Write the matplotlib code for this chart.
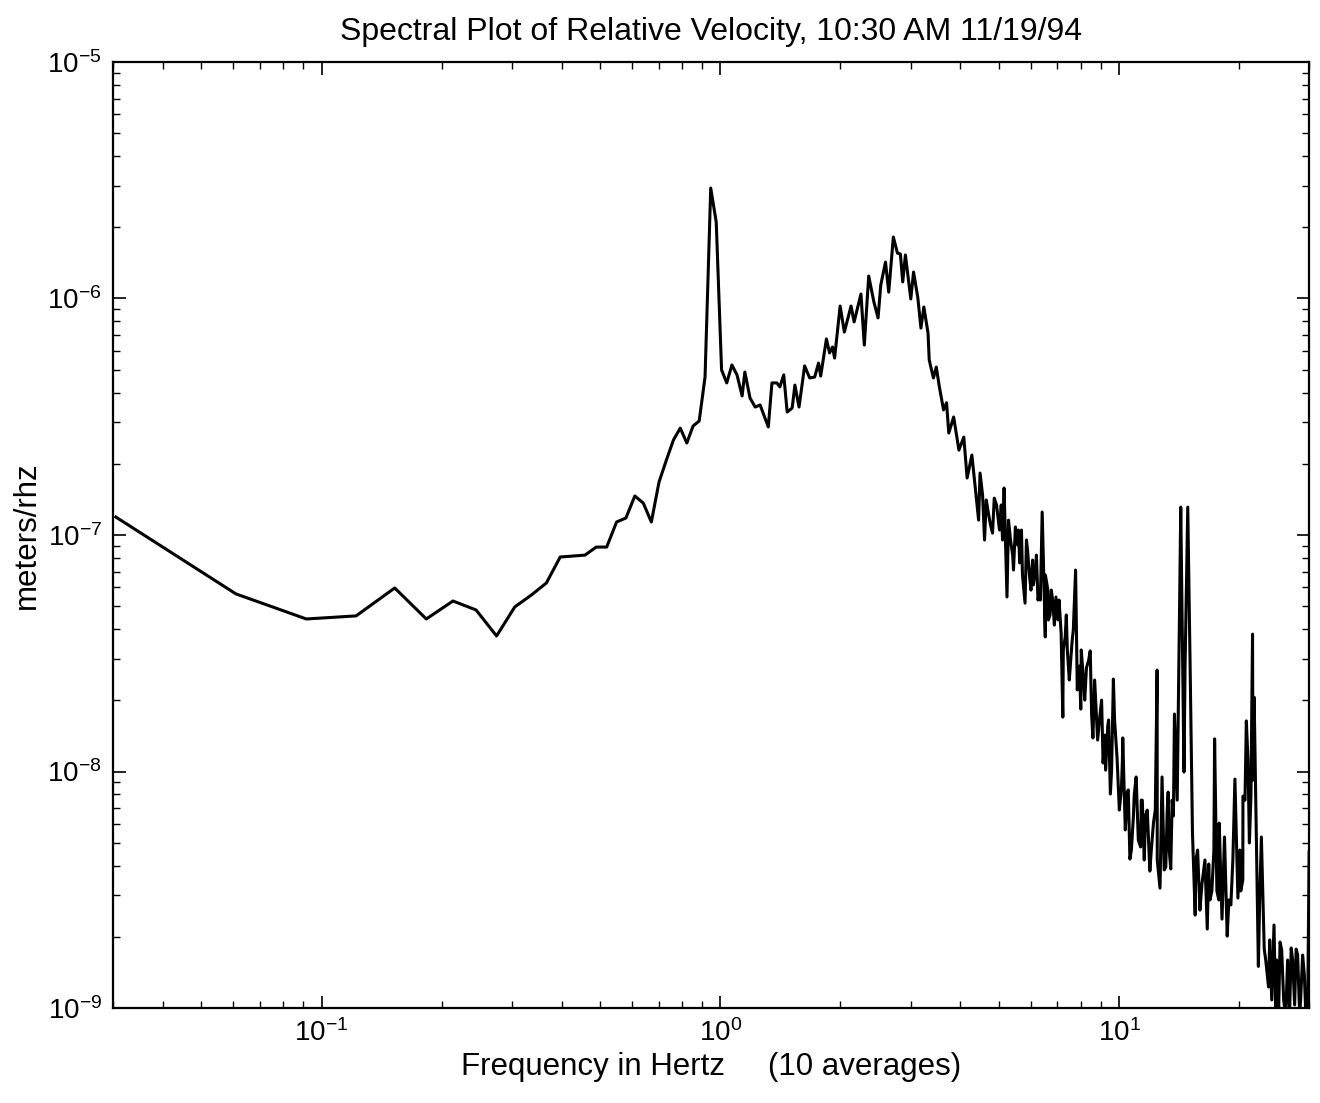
import numpy as np
import matplotlib
matplotlib.use("Agg")
import matplotlib.pyplot as plt
from matplotlib.ticker import NullFormatter

plt.rcParams["font.family"] = ["Liberation Sans", "DejaVu Sans"]
plt.rcParams["mathtext.fontset"] = "custom"
plt.rcParams["mathtext.rm"] = "Liberation Sans"

# Relative velocity spectrum (10 averages), frequency in Hz
freq_hz = [
    0.0305, 0.0610, 0.0916, 0.1221, 0.1526, 0.1831, 0.2136, 0.2441, 0.2747, 0.3052,
    0.3357, 0.3662, 0.3967, 0.4272, 0.4578, 0.4883, 0.5188, 0.5493, 0.5798, 0.6104,
    0.6409, 0.6714, 0.7019, 0.7324, 0.7629, 0.7935, 0.8240, 0.8545, 0.8850, 0.9155,
    0.9460, 0.9766, 1.0071, 1.0376,
    1.069, 1.101, 1.134, 1.152, 1.187, 1.223, 1.258, 1.319, 1.347, 1.386,
    1.410, 1.442, 1.471, 1.514, 1.538, 1.575, 1.627, 1.675, 1.724, 1.763,
    1.785, 1.845, 1.879, 1.911, 1.934, 1.997, 2.046, 2.127, 2.165, 2.252,
    2.296, 2.355, 2.427, 2.486, 2.525, 2.595, 2.644, 2.715, 2.780, 2.828,
    2.866, 2.911, 3.003, 3.051, 3.126, 3.184, 3.238, 3.317, 3.340, 3.422,
    3.479, 3.542, 3.628, 3.692, 3.739, 3.846, 3.965, 4.078, 4.157, 4.273,
    4.479, 4.597, 4.643, 4.699, 4.814, 4.862, 5.012, 5.062, 5.146, 5.233,
    5.340, 5.408, 5.493, 5.564, 5.630, 5.689, 5.808, 5.892, 6.009, 6.067,
    6.177, 6.259, 6.328, 6.412, 6.528, 6.627, 6.711, 6.823, 6.942, 7.026,
    7.153, 7.223, 7.323, 7.413, 7.551, 7.627, 7.776, 7.952, 8.012, 8.137,
    8.279, 8.462, 8.594, 8.730, 8.940, 9.114, 9.210, 9.365, 9.506, 9.672,
    9.880, 10.13, 10.21, 10.48, 10.64, 10.86, 11.03, 11.32, 11.43, 11.64,
    11.94, 12.19, 12.45, 12.66, 12.81, 13.09, 13.27, 13.47, 13.68, 13.76,
    14.03, 14.18, 14.27, 14.54, 14.63, 14.86, 15.06, 15.27, 15.51, 15.73,
    16.13, 16.29, 16.63, 16.77, 17.08, 17.35, 17.58, 17.82, 18.11, 18.37,
    18.66, 19.06, 19.51, 19.85, 20.18, 20.44, 20.84, 21.21, 21.40, 21.60,
    21.80, 22.34, 22.73, 23.11, 23.69, 24.45, 24.69, 25.32, 26.16, 27.00,
    27.79, 28.35, 29.13, 29.70, 29.95,
]

# log10 of amplitude spectral density, meters/rhz
log_asd = [
    -6.924, -7.249, -7.355, -7.342, -7.224, -7.355, -7.279, -7.317, -7.427, -7.304,
    -7.254, -7.203, -7.093, -7.089, -7.085, -7.051, -7.051, -6.945, -6.928, -6.835,
    -6.865, -6.945, -6.776, -6.683, -6.598, -6.548, -6.611, -6.539, -6.518, -6.332,
    -5.533, -5.677, -6.302, -6.357,
    -6.281, -6.323, -6.412, -6.311, -6.421, -6.459, -6.450, -6.543, -6.357, -6.357,
    -6.374, -6.323, -6.480, -6.463, -6.366, -6.459, -6.285, -6.336, -6.332, -6.273,
    -6.328, -6.171, -6.230, -6.205, -6.252, -6.032, -6.142, -6.032, -6.099, -5.981,
    -6.197, -5.905, -6.015, -6.082, -5.943, -5.846, -5.973, -5.740, -5.808, -5.812,
    -5.930, -5.816, -6.002, -5.888, -5.994, -6.125, -6.036, -6.146, -6.260, -6.336,
    -6.290, -6.374, -6.471, -6.441, -6.569, -6.501, -6.641, -6.586, -6.759, -6.662,
    -6.738, -7.021, -6.852, -6.907, -6.992, -6.844, -6.979, -6.873, -6.801, -7.262,
    -7.021, -7.085, -6.966, -7.042, -7.118, -6.979, -7.288, -7.063, -7.233, -7.106,
    -7.135, -7.275, -7.233, -6.903, -7.431, -7.233, -7.338, -7.288, -7.262, -7.359,
    -7.414, -7.770, -7.431, -7.486, -7.541, -7.444, -7.148, -7.554, -7.736, -7.613,
    -7.562, -7.490, -7.858, -7.698, -7.770, -7.964, -7.846, -7.808, -8.095, -7.609,
    -7.943, -8.074, -7.858, -8.087, -8.370, -8.188, -8.023, -8.319, -8.121, -8.188,
    -8.421, -8.218, -7.571, -8.493, -8.023, -8.404, -8.087, -8.412, -8.188, -7.757,
    -7.914, -7.275, -6.882, -8.002, -7.558, -6.882, -7.541, -8.260, -8.607, -8.332,
    -8.476, -8.417, -8.666, -8.391, -8.505, -7.862, -8.505, -8.218, -8.624, -8.277,
    -8.696, -8.564, -8.032, -8.535, -8.505, -8.104, -7.786, -8.302, -8.104, -7.419,
    -7.686, -8.824, -8.277, -8.751, -8.911, -8.649, -9.025, -8.721, -9.034, -8.746,
    -8.751, -9.025, -8.860, -8.996, -8.340,
]

# extra bins in the noisy band above 4 Hz
band_freq_hz = [
    4.442, 4.545, 4.759, 4.926, 5.100, 5.279, 5.433, 5.592, 5.722, 5.855,
    5.957, 6.095, 6.202, 6.346, 6.531, 6.645, 6.761, 6.879, 7.068, 7.244,
    7.371, 7.499, 7.674, 7.852, 8.035, 8.197, 8.387, 8.531, 8.680, 8.831,
    9.036, 9.247, 9.408, 9.572, 9.739,
    10.01, 10.19, 10.36, 10.54, 10.73, 10.91, 11.17, 11.36, 11.56, 11.76,
    12.04, 12.32, 12.46, 12.75, 12.97, 13.20, 13.35, 13.58, 13.98,
    15.58, 15.94, 16.41, 16.89, 17.28, 17.78, 18.30, 18.84, 19.28, 20.07,
    20.42, 20.68, 21.04, 21.65,
    22.51, 23.31, 23.85, 24.13, 24.83, 25.12, 25.56, 25.85, 26.45, 26.76,
    27.23, 27.54, 28.02, 28.51, 28.84, 29.35,
]
band_log_asd = [
    -6.937, -6.831, -6.958, -6.873, -7.021, -6.937, -7.148, -6.979, -7.169, -7.021,
    -7.169, -7.211, -7.085, -7.275, -7.169, -7.359, -7.233, -7.381, -7.275, -7.486,
    -7.338, -7.613, -7.402, -7.655, -7.486, -7.698, -7.529, -7.761, -7.613, -7.867,
    -7.698, -7.994, -7.782, -7.994, -7.782,
    -8.163, -7.951, -8.247, -8.078, -8.332, -8.099, -8.290, -8.121, -8.374, -8.163,
    -8.332, -8.163, -8.374, -8.205, -8.416, -8.163, -8.332, -8.121, -8.121,
    -8.374, -8.586, -8.374, -8.543, -8.332, -8.543, -8.374, -8.543, -8.374, -8.332,
    -8.459, -8.121, -7.951, -8.036,
    -8.543, -8.797, -8.712, -8.966, -8.797, -9.008, -8.755, -8.966, -8.797, -9.017,
    -8.797, -8.987, -8.776, -8.966, -8.776, -9.008,
]

f_all = np.concatenate([freq_hz, band_freq_hz])
lv_all = np.concatenate([log_asd, band_log_asd])
order = np.argsort(f_all)
f_all = f_all[order]
asd = 10.0 ** lv_all[order]

fig = plt.figure(figsize=(13.2, 11.03), dpi=100)
ax = fig.add_axes([0.0856, 0.0861, 0.9064, 0.8577])

ax.loglog(f_all, asd, color="black", linewidth=2.2)
ax.set_xlim(0.03, 30)
ax.set_ylim(1e-9, 1e-5)

ax.tick_params(which="both", direction="in", top=True, right=True)
ax.tick_params(which="major", length=9, width=1.2, labelsize=20, pad=8)
ax.tick_params(which="minor", length=5, width=1.0)
ax.xaxis.set_minor_formatter(NullFormatter())
ax.yaxis.set_minor_formatter(NullFormatter())
for s in ax.spines.values():
    s.set_linewidth(1.6)

ax.set_title("Spectral Plot of Relative Velocity, 10:30 AM 11/19/94", fontsize=23, pad=16)
ax.set_xlabel("Frequency in Hertz     (10 averages)", fontsize=22.5, labelpad=4)
ax.set_ylabel("meters/rhz", fontsize=22.5)

fig.savefig("out.png", dpi=100)
